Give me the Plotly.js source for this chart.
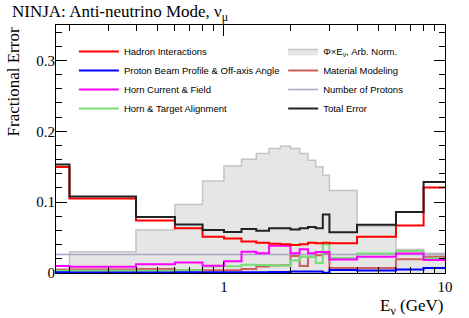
<!DOCTYPE html>
<html>
<head>
<meta charset="utf-8">
<script src="https://cdn.plot.ly/plotly-3.0.1.min.js"></script>
<style>html,body{margin:0;padding:0;background:#fff;}#chart{width:469px;height:318px;}</style>
</head>
<body>
<div id="chart"></div>
<script>
// Bin edges (GeV)
const binEdges = [0.1, 0.2, 0.4, 0.6, 0.8, 1.0, 1.2, 1.4, 1.6, 1.8, 2.0, 2.2, 2.4, 2.6, 2.8, 3.0, 4.0, 6.0, 8.0, 10.0];

// Fractional errors per bin
const totalError   = [0.153, 0.108, 0.079, 0.0686, 0.0606, 0.058, 0.062, 0.0596, 0.063, 0.063, 0.0615, 0.063, 0.0648, 0.063, 0.0826, 0.0575, 0.068, 0.086, 0.1286];
const hadronInt    = [0.1497, 0.105, 0.0742, 0.063, 0.0512, 0.0488, 0.0445, 0.0427, 0.0413, 0.0404, 0.0394, 0.0404, 0.0427, 0.042, 0.0427, 0.042, 0.0512, 0.0672, 0.1207];
const protonBeam   = [0.001, 0.0008, 0.0008, 0.001, 0.001, 0.001, 0.0012, 0.0012, 0.0015, 0.0015, 0.002, 0.002, 0.002, 0.002, 0.0002, 0.0042, 0.0035, 0.0048, 0.007];
const hornCurrent  = [0.0099, 0.0089, 0.0122, 0.0148, 0.0101, 0.0165, 0.030, 0.028, 0.0385, 0.0385, 0.0277, 0.0335, 0.0277, 0.0296, 0.0296, 0.0192, 0.023, 0.0275, 0.0183];
const hornAlign    = [0.003, 0.003, 0.003, 0.004, 0.0097, 0.0095, 0.0115, 0.0112, 0.0105, 0.0105, 0.0175, 0.023, 0.023, 0.014, 0.0405, 0.021, 0.0275, 0.031, 0.0205];
const materialMod  = [0.005, 0.005, 0.0055, 0.0038, 0.0038, 0.004, 0.0056, 0.0092, 0.0105, 0.011, 0.024, 0.0099, 0.023, 0.025, 0.028, 0.007, 0.007, 0.0193, 0.023];
const numProtons   = [0.026, 0.026, 0.026, 0.026, 0.026, 0.026, 0.026, 0.026, 0.026, 0.026, 0.026, 0.026, 0.026, 0.026, 0.026, 0.026, 0.026, 0.026, 0.026];
const fluxArb      = [0, 0.030, 0.0606, 0.0967, 0.130, 0.151, 0.1606, 0.1685, 0.1756, 0.179, 0.1756, 0.1685, 0.159, 0.150, 0.138, 0.1165, 0.066, 0.033, 0.028];

const serif = 'Liberation Serif';
const sans = 'Liberation Sans';

function stepY(vals) { return vals.concat([vals[vals.length - 1]]); }

function histTrace(name, vals, color, width, legend, rank) {
  return {
    type: 'scatter', mode: 'lines', name: name,
    x: binEdges, y: stepY(vals),
    line: {shape: 'hv', color: color, width: width},
    legend: legend, legendrank: rank, hoverinfo: 'skip'
  };
}

const fluxTrace = {
  type: 'scatter', mode: 'lines', name: 'Φ×E<sub>ν</sub>, Arb. Norm.',
  x: binEdges, y: stepY(fluxArb),
  line: {shape: 'hv', color: '#c4c4c4', width: 1.5},
  fill: 'tozeroy', fillcolor: '#e6e6e6',
  legend: 'legend2', legendrank: 1, hoverinfo: 'skip'
};

const data = [
  fluxTrace,
  histTrace('Number of Protons', numProtons, '#a8a8cc', 1.5, 'legend2', 3),
  histTrace('Material Modeling', materialMod, '#cc6060', 2, 'legend2', 2),
  histTrace('Horn &amp; Target Alignment', hornAlign, '#77dd77', 2, 'legend', 4),
  histTrace('Horn Current &amp; Field', hornCurrent, '#ff00ff', 2, 'legend', 3),
  histTrace('Proton Beam Profile &amp; Off-axis Angle', protonBeam, '#0000ff', 2, 'legend', 2),
  histTrace('Hadron Interactions', hadronInt, '#ff0000', 2, 'legend', 1),
  histTrace('Total Error', totalError, '#222222', 2, 'legend2', 4)
];

const xMinor = [0.2, 0.3, 0.4, 0.5, 0.6, 0.7, 0.8, 0.9, 2, 3, 4, 5, 6, 7, 8, 9];

const layout = {
  width: 469, height: 318,
  margin: {l: 56, r: 24, t: 25, b: 45},
  paper_bgcolor: '#ffffff', plot_bgcolor: '#ffffff',
  showlegend: true,
  title: {
    text: 'NINJA: Anti-neutrino Mode, ν<sub>μ</sub>',
    font: {family: serif, size: 17, color: '#000'},
    xref: 'container', x: 12 / 469, xanchor: 'left',
    yref: 'container', y: 1 - 11 / 318, yanchor: 'middle'
  },
  xaxis: {
    type: 'log', range: [-0.76, 1],
    tickmode: 'array', tickvals: [1, 10], ticktext: ['1', '10'],
    ticks: 'inside', ticklen: 11, tickwidth: 1, tickcolor: '#000',
    minor: {tickmode: 'array', tickvals: xMinor, ticks: 'inside', ticklen: 6, tickwidth: 1, tickcolor: '#000', showgrid: false},
    showline: true, linecolor: '#000', linewidth: 1, mirror: 'ticks',
    showgrid: false, zeroline: false,
    tickfont: {family: serif, size: 15, color: '#000'}
  },
  yaxis: {
    range: [0, 0.35],
    tickmode: 'array', tickvals: [0, 0.1, 0.2, 0.3], ticktext: ['0', '0.1', '0.2', '0.3'],
    ticks: 'inside', ticklen: 11, tickwidth: 1, tickcolor: '#000',
    minor: {dtick: 0.02, tick0: 0, ticks: 'inside', ticklen: 6, tickwidth: 1, tickcolor: '#000', showgrid: false},
    showline: true, linecolor: '#000', linewidth: 1, mirror: 'ticks',
    showgrid: false, zeroline: false,
    ticklabelstandoff: -3,
    tickfont: {family: serif, size: 15, color: '#000'}
  },
  legend: {
    x: 0.046, y: 0.952, xanchor: 'left', yanchor: 'top',
    bgcolor: 'rgba(0,0,0,0)', borderwidth: 0,
    font: {family: sans, size: 9.5, color: '#000'},
    itemwidth: 40, tracegroupgap: 0
  },
  legend2: {
    x: 0.584, y: 0.952, xanchor: 'left', yanchor: 'top',
    bgcolor: 'rgba(0,0,0,0)', borderwidth: 0,
    font: {family: sans, size: 9.5, color: '#000'},
    itemwidth: 30, tracegroupgap: 0
  },
  annotations: [
    {
      text: 'Fractional Error', textangle: -90,
      xref: 'paper', x: -0.108, xanchor: 'center',
      yref: 'paper', y: 1, yanchor: 'top',
      showarrow: false, font: {family: serif, size: 17, color: '#000'}
    },
    {
      text: 'E<sub>ν</sub> (GeV)',
      xref: 'paper', x: 1, xanchor: 'right',
      yref: 'paper', y: -0.137, yanchor: 'middle',
      showarrow: false, font: {family: serif, size: 17, color: '#000'}
    }
  ]
};

Plotly.newPlot('chart', data, layout, {displayModeBar: false, staticPlot: true});
</script>
</body>
</html>
